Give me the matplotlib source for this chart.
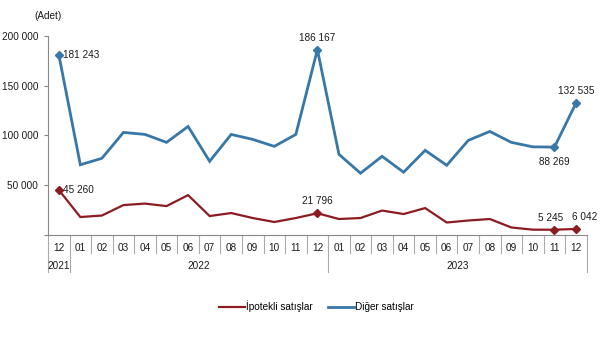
import matplotlib
matplotlib.use("Agg")
import matplotlib.pyplot as plt
from matplotlib.transforms import blended_transform_factory

plt.rcParams['font.family'] = ['Liberation Sans', 'DejaVu Sans']

months = ["12", "01", "02", "03", "04", "05", "06", "07", "08", "09", "10", "11",
          "12", "01", "02", "03", "04", "05", "06", "07", "08", "09", "10", "11", "12"]
years = ["2021", "2022", "2023"]
year_counts = [1, 12, 12]

ipotekli = [45260, 18000, 19500, 30000, 31500, 29000, 40000, 19000, 22000, 17000, 13000, 17000,
            21796, 16000, 17000, 24500, 21000, 27000, 12500, 14500, 16000, 7500, 5300, 5245, 6042]
diger = [181243, 70500, 77000, 103000, 101000, 93000, 109000, 74000, 101000, 96000, 89000, 101000,
         186167, 81000, 62000, 79000, 63000, 85000, 70000, 95000, 104000, 93000, 88500, 88269, 132535]

yticks = [0, 50000, 100000, 150000, 200000]
ytick_labels = ["", "50 000", "100 000", "150 000", "200 000"]

red = "#8C1C22"
blue = "#3778A8"
fs = 7.2

fig = plt.figure(figsize=(6, 3.45), dpi=100)
ax = fig.add_axes([0.08, 0.319, 0.898, 0.577])

x = list(range(len(months)))
ax.plot(x, ipotekli, color=red, lw=1.6, label="İpotekli satışlar", solid_joinstyle='miter')
ax.plot(x, diger, color=blue, lw=2.0, label="Diğer satışlar", solid_joinstyle='miter')

def fmt(v):
    return f"{v:,}".replace(",", " ")

red_labels = [(0, (3, 0), 'left', 'center'), (12, (0, 5), 'center', 'bottom'),
              (23, (-3, 5), 'center', 'bottom'), (24, (6, 5), 'center', 'bottom')]
blue_labels = [(0, (3, 0), 'left', 'center'), (12, (0, 5), 'center', 'bottom'),
               (23, (0, -7), 'center', 'top'), (24, (0, 5), 'center', 'bottom')]
for i, off, ha, va in red_labels:
    ax.plot(i, ipotekli[i], marker='D', ms=4.5, color=red)
    ax.annotate(fmt(ipotekli[i]), (i, ipotekli[i]), xytext=off, textcoords='offset points',
                ha=ha, va=va, fontsize=fs, color='#1a1a1a')
for i, off, ha, va in blue_labels:
    ax.plot(i, diger[i], marker='D', ms=4.5, color=blue)
    ax.annotate(fmt(diger[i]), (i, diger[i]), xytext=off, textcoords='offset points',
                ha=ha, va=va, fontsize=fs, color='#1a1a1a')

ax.set_xlim(-0.5, len(months) - 0.5)
ax.set_ylim(0, 200000)
ax.set_yticks(yticks)
ax.set_yticklabels(ytick_labels, fontsize=fs, color='#1a1a1a')
ax.tick_params(axis='y', length=3, color='#888888', pad=4)
ax.set_xticks(x)
ax.set_xticklabels(months, fontsize=fs, color='#1a1a1a')
ax.tick_params(axis='x', length=0, pad=6)
for s in ['top', 'right']:
    ax.spines[s].set_visible(False)
for s in ['left', 'bottom']:
    ax.spines[s].set_color('#888888')
    ax.spines[s].set_linewidth(0.8)

# category separators
tr = blended_transform_factory(ax.transData, ax.transAxes)
boundaries = []
pos = 0
for c in year_counts:
    boundaries.append(pos - 0.5)
    pos += c
boundaries.append(pos - 0.5)
for b in range(len(months) + 1):
    xb = b - 0.5
    low = -0.09
    if xb in boundaries:
        low = -0.185
    ax.plot([xb, xb], [0, low], transform=tr, color='#aaaaaa', lw=0.8, clip_on=False)

# year labels
pos = 0
for yname, c in zip(years, year_counts):
    center = pos + (c - 1) / 2
    ax.text(center, -0.155, yname, transform=tr, ha='center', va='center',
            fontsize=fs, color='#1a1a1a')
    pos += c

fig.text(0.08, 0.955, "(Adet)", ha='center', va='center', fontsize=fs, color='#1a1a1a')

leg = fig.legend(loc='center', bbox_to_anchor=(0.527, 0.112), ncol=2, frameon=False,
                 fontsize=fs, handlelength=2.6, handletextpad=0.1, columnspacing=1.6)

fig.savefig("out.png", dpi=100)
